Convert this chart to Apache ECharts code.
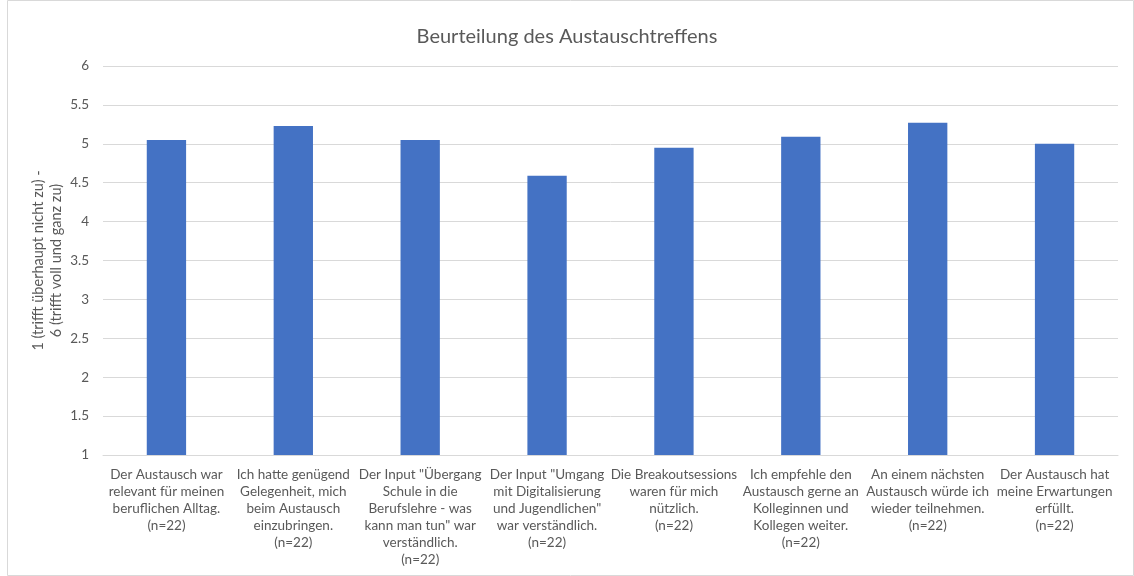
<!DOCTYPE html>
<html>
<head>
<meta charset="utf-8">
<script src="https://cdn.jsdelivr.net/npm/echarts@6/dist/echarts.min.js"></script>
<style>
  html, body { margin: 0; padding: 0; background: #fff; }
  #chart { width: 1134px; height: 576px; }
</style>
</head>
<body>
<div id="chart"></div>
<script>
// Kategorien (Zeilenumbrüche wie im Original)
const categories = [
  'Der Austausch war\nrelevant für meinen\nberuflichen Alltag.\n(n=22)',
  'Ich hatte genügend\nGelegenheit, mich\nbeim Austausch\neinzubringen.\n(n=22)',
  'Der Input "Übergang\nSchule in die\nBerufslehre - was\nkann man tun" war\nverständlich.\n(n=22)',
  'Der Input "Umgang\nmit Digitalisierung\nund Jugendlichen"\nwar verständlich.\n(n=22)',
  'Die Breakoutsessions\nwaren für mich\nnützlich.\n(n=22)',
  'Ich empfehle den\nAustausch gerne an\nKolleginnen und\nKollegen weiter.\n(n=22)',
  'An einem nächsten\nAustausch würde ich\nwieder teilnehmen.\n(n=22)',
  'Der Austausch hat\nmeine Erwartungen\nerfüllt.\n(n=22)'
]
const values = [5.05, 5.23, 5.05, 4.59, 4.95, 5.09, 5.27, 5.0]
const yTicks = [1, 1.5, 2, 2.5, 3, 3.5, 4, 4.5, 5, 5.5, 6]

const chart = echarts.init(document.getElementById('chart'))
const font = 'Lato, "Open Sans", sans-serif'
const option = {
  animation: false,
  textStyle: { fontFamily: font },
  title: {
    text: 'Beurteilung des Austauschtreffens',
    left: 'center',
    top: 22,
    textStyle: { fontSize: 20, fontWeight: 'normal', color: '#595959', fontFamily: font }
  },
  graphic: [{
    type: 'rect',
    shape: { x: 7.5, y: 0.5, width: 1126, height: 575 },
    style: { fill: 'none', stroke: '#d9d9d9', lineWidth: 1 },
    silent: true
  }],
  grid: { left: 103, right: 16, top: 66, bottom: 121 },
  xAxis: {
    type: 'category',
    data: categories,
    axisTick: { show: false },
    axisLine: { lineStyle: { color: '#d9d9d9' } },
    axisLabel: {
      interval: 0,
      color: '#595959',
      fontSize: 13.5,
      lineHeight: 17,
      margin: 11,
      fontFamily: font
    }
  },
  yAxis: {
    type: 'value',
    min: 1,
    max: 6,
    interval: 0.5,
    name: '1 (trifft überhaupt nicht zu) -\n6 (trifft voll und ganz zu)',
    nameLocation: 'middle',
    nameRotate: 90,
    nameGap: 38,
    nameMoveOverlap: false,
    nameTextStyle: { color: '#595959', fontSize: 14.5, lineHeight: 18, fontFamily: font },
    axisLine: { show: false },
    axisTick: { show: false },
    axisLabel: {
      color: '#595959',
      fontSize: 13.5,
      margin: 14,
      fontFamily: font,
      formatter: v => yTicks.includes(v) ? String(v) : ''
    },
    splitLine: { lineStyle: { color: '#d9d9d9' } }
  },
  series: [{
    type: 'bar',
    data: values,
    barWidth: '31%',
    itemStyle: { color: '#4472c4' }
  }]
}
chart.setOption(option)
</script>
</body>
</html>
